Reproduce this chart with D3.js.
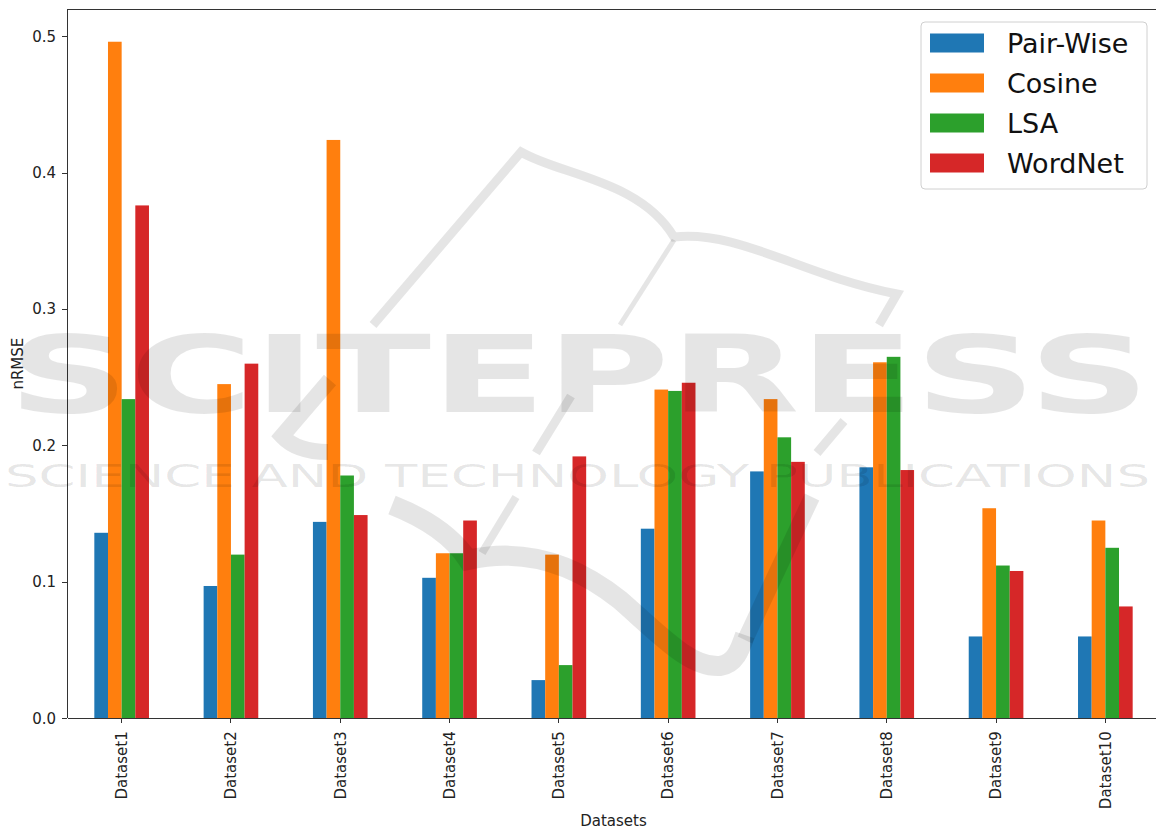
<!doctype html>
<html lang="en">
<head>
<meta charset="utf-8">
<title>nRMSE by dataset</title>
<style>
html, body {
	margin: 0;
	padding: 0;
	background: #fff;
}
svg {
	display: block;
	font-family: 'DejaVu Sans', sans-serif;
}
.axis path, .axis line {
	stroke: #333;
	shape-rendering: crispEdges;
}
</style>
</head>
<body>
<div id="chart"></div>
<script src="https://cdn.jsdelivr.net/npm/d3@7/dist/d3.min.js"></script>
<script>
(function (d3) {
	'use strict';

	/* DATA */

	var categories = ['Dataset1', 'Dataset2', 'Dataset3', 'Dataset4', 'Dataset5',
		'Dataset6', 'Dataset7', 'Dataset8', 'Dataset9', 'Dataset10'];

	var seriesNames = ['Pair-Wise', 'Cosine', 'LSA', 'WordNet'];

	var pairWise = [0.136, 0.097, 0.144, 0.103, 0.028, 0.139, 0.181, 0.184, 0.060, 0.060];
	var cosine   = [0.496, 0.245, 0.424, 0.121, 0.120, 0.241, 0.234, 0.261, 0.154, 0.145];
	var lsa      = [0.234, 0.120, 0.178, 0.121, 0.039, 0.240, 0.206, 0.265, 0.112, 0.125];
	var wordNet  = [0.376, 0.260, 0.149, 0.145, 0.192, 0.246, 0.188, 0.182, 0.108, 0.082];

	var yTicks = [0.0, 0.1, 0.2, 0.3, 0.4, 0.5];

	var colors = ['#1f77b4', '#ff7f0e', '#2ca02c', '#d62728'];

	/* LAYOUT */

	var W = 1156, H = 830;
	var left = 67, top = 9, bottom = 718.3, right = 1160;
	var FONT = "'DejaVu Sans', sans-serif";

	var values = [pairWise, cosine, lsa, wordNet];
	var rows = categories.map(function (c, i) {
		return { name: c, vals: values.map(function (s) { return s[i]; }) };
	});

	var svg = d3.select('#chart').append('svg')
		.attr('width', W)
		.attr('height', H);

	var x0 = d3.scaleBand()
		.domain(categories)
		.range([left, right])
		.padding(0);

	var bw = x0.bandwidth();
	var x1 = d3.scaleBand()
		.domain(d3.range(seriesNames.length))
		.range([bw * 0.25, bw * 0.75])
		.padding(0);

	var y = d3.scaleLinear()
		.domain([0, 0.52])
		.range([bottom, top]);

	/* BARS */

	var groups = svg.append('g').selectAll('g')
		.data(rows).enter()
		.append('g')
		.attr('transform', function (d) { return 'translate(' + x0(d.name) + ',0)'; });

	groups.selectAll('rect')
		.data(function (d) { return d.vals; }).enter()
		.append('rect')
		.attr('x', function (v, j) { return x1(j); })
		.attr('y', function (v) { return y(v); })
		.attr('width', x1.bandwidth())
		.attr('height', function (v) { return y(0) - y(v); })
		.attr('fill', function (v, j) { return colors[j]; });

	/* AXES */

	var yAxis = svg.append('g')
		.attr('class', 'axis')
		.attr('transform', 'translate(' + left + ',0)')
		.call(d3.axisLeft(y)
			.tickValues(yTicks)
			.tickFormat(d3.format('.1f'))
			.tickSize(5)
			.tickPadding(6)
			.tickSizeOuter(0));
	yAxis.select('.domain').attr('d', 'M0,' + top + 'V' + bottom);

	var xAxis = svg.append('g')
		.attr('class', 'axis')
		.attr('transform', 'translate(0,' + bottom + ')')
		.call(d3.axisBottom(x0).tickSize(5).tickSizeOuter(0));

	xAxis.selectAll('.tick text')
		.attr('transform', 'translate(0,13) rotate(-90)')
		.attr('x', 0)
		.attr('y', 0)
		.attr('dy', '0.35em')
		.style('text-anchor', 'end');

	svg.selectAll('.axis')
		.attr('font-family', FONT)
		.attr('font-size', 15);
	svg.selectAll('.axis .tick text')
		.style('font-size', '15px')
		.style('font-family', FONT)
		.attr('fill', '#222');

	// top spine
	svg.append('line')
		.attr('x1', left).attr('x2', right)
		.attr('y1', top).attr('y2', top)
		.attr('stroke', '#333')
		.attr('shape-rendering', 'crispEdges');

	svg.append('text')
		.attr('transform', 'translate(23,' + ((top + bottom) / 2) + ') rotate(-90)')
		.attr('text-anchor', 'middle')
		.style('font-size', '15px')
		.attr('fill', '#222')
		.text('nRMSE');

	svg.append('text')
		.attr('x', (left + right) / 2)
		.attr('y', 826)
		.attr('text-anchor', 'middle')
		.style('font-size', '15px')
		.attr('fill', '#222')
		.text('Datasets');

	/* LEGEND */

	var legend = svg.append('g').attr('transform', 'translate(921,22)');

	legend.append('rect')
		.attr('width', 226)
		.attr('height', 167)
		.attr('rx', 4)
		.attr('fill', 'rgba(255,255,255,0.8)')
		.attr('stroke', '#d0d0d0');

	var item = legend.selectAll('g.item')
		.data(seriesNames).enter()
		.append('g')
		.attr('class', 'item')
		.attr('transform', function (d, i) { return 'translate(9,' + (21 + i * 40) + ')'; });

	item.append('rect')
		.attr('y', -9.5)
		.attr('width', 54)
		.attr('height', 19)
		.attr('fill', function (d, i) { return colors[i]; });

	item.append('text')
		.attr('x', 77)
		.attr('y', 10)
		.style('font-size', '27px')
		.attr('fill', '#111')
		.text(function (d) { return d; });

	/* WATERMARK */

	var wm = svg.append('g')
		.attr('fill', 'none')
		.attr('stroke', 'rgba(0,0,0,0.1)')
		.attr('stroke-linecap', 'butt');

	// pen outline
	wm.append('path')
		.attr('stroke-width', 9)
		.attr('d', 'M373,325 L521,152 C560,175 640,180 674,237 C740,230 800,275 897,294 L879,325');
	wm.append('path')
		.attr('stroke-width', 5)
		.attr('d', 'M674,240 L620,325');
	wm.append('path')
		.attr('stroke-width', 9)
		.attr('d', 'M571,396 L536,453 M844,421 L817,453');
	wm.append('path')
		.attr('stroke-width', 16)
		.attr('d', 'M330,380 L282,436 C295,450 315,452 328,452');
	// lower swoosh
	wm.append('path')
		.attr('stroke-width', 20)
		.attr('d', 'M392,505 C430,520 455,540 468,560 C520,548 570,560 620,600 C660,635 690,668 720,666 C735,664 740,650 745,635');
	wm.append('path')
		.attr('stroke-width', 16)
		.attr('d', 'M745,640 L812,497');
	wm.append('path')
		.attr('stroke-width', 8)
		.attr('d', 'M516,497 L482,553');

	svg.append('text')
		.attr('x', 8)
		.attr('y', 412)
		.attr('textLength', 1142)
		.attr('lengthAdjust', 'spacingAndGlyphs')
		.style('font-size', '107px')
		.style('font-weight', 'bold')
		.attr('fill', 'rgba(0,0,0,0.1)')
		.text('SCITEPRESS');

	svg.append('text')
		.attr('x', 5)
		.attr('y', 487)
		.attr('textLength', 1145)
		.attr('lengthAdjust', 'spacingAndGlyphs')
		.style('font-size', '32px')
		.attr('fill', 'rgba(0,0,0,0.1)')
		.text('SCIENCE AND TECHNOLOGY PUBLICATIONS');

})(window.d3);
</script>
</body>
</html>
